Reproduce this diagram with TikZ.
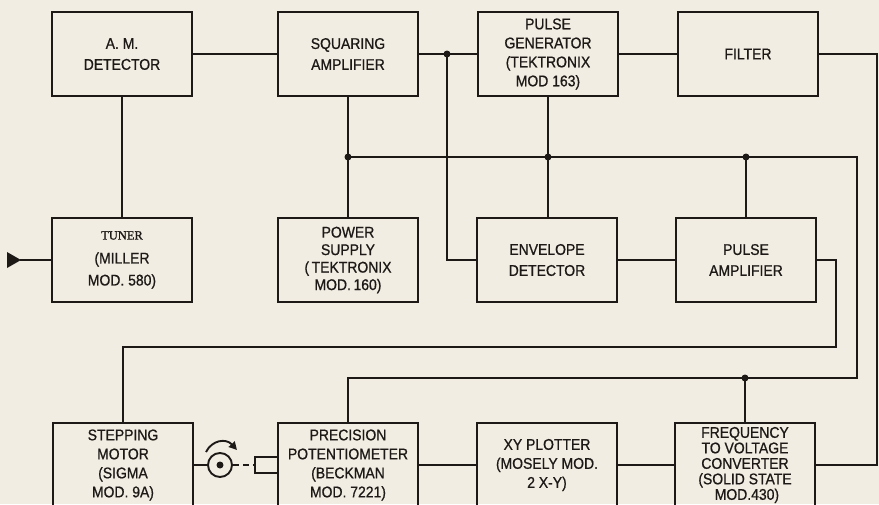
\documentclass[tikz,border=0pt]{standalone}
\usepackage{fontspec}
\setmainfont{Liberation Sans}[FakeStretch=0.9,FakeBold=0.8]
\newfontfamily\tunerfont{Liberation Serif}[FakeBold=1.5]
\usetikzlibrary{arrows.meta}
\definecolor{bg}{RGB}{242,237,227}
\definecolor{ink}{RGB}{28,25,22}
\begin{document}
\begin{tikzpicture}[x=1pt,y=-1pt,
  blk/.style={draw=ink, line width=2.4pt, minimum width=140pt, minimum height=84pt,
    inner sep=0pt, align=center, text=ink, font=\fontsize{15.5}{19}\selectfont},
  two/.style={font=\fontsize{15.5}{21}\selectfont},
  wire/.style={draw=ink, line width=1.9pt},
  jdot/.style={circle, fill=ink, inner sep=0pt, minimum size=7pt}]
\fill[bg] (0,0) rectangle (879,504);
\useasboundingbox (0,0) rectangle (879,504);
\clip (0,0) rectangle (879,504);

% row 1
\node[blk,two] (am) at (122,54) {A. M.\\DETECTOR};
\node[blk,two] (sq) at (348,54) {SQUARING\\AMPLIFIER};
\node[blk] (pg) at (548,54) {PULSE\\GENERATOR\\(TEKTRONIX\\MOD 163)};
\node[blk] (fl) at (748,54) {FILTER};
% row 2
\node[blk] (tu) at (122,260) {{\tunerfont\fontsize{12.5}{12.5}\selectfont TUNER}\\[5pt](MILLER\\[3pt]MOD. 580)};
\node[blk,font=\fontsize{15.5}{17.5}\selectfont] (ps) at (348,260) {POWER\\SUPPLY\\(\,TEKTRONIX\\MOD.\,160)};
\node[blk,two] (ed) at (547,260) {ENVELOPE\\DETECTOR};
\node[blk,two] (pa) at (746,260) {PULSE\\AMPLIFIER};
% row 3
\node[blk] (sm) at (123,465) {STEPPING\\MOTOR\\(SIGMA\\MOD. 9A)};
\node[blk] (pp) at (348,465) {PRECISION\\POTENTIOMETER\\(BECKMAN\\MOD. 7221)};
\node[blk] (xy) at (547,465) {XY PLOTTER\\(MOSELY MOD.\\2 X-Y)};
\node[blk,font=\fontsize{15.5}{15.5}\selectfont] (fv) at (745,465) {FREQUENCY\\TO VOLTAGE\\CONVERTER\\(SOLID STATE\\\ MOD.430)};

% coordinates
\coordinate (j1) at (447,54);
\coordinate (j2) at (348,157);
\coordinate (j3) at (548,157);
\coordinate (j4) at (746,157);
\coordinate (b1) at (857,157);
\coordinate (b2) at (857,378);
\coordinate (j5) at (745,378);
\coordinate (b3) at (348,378);
\coordinate (fr) at (877,54);
\coordinate (fb) at (877,465);
\coordinate (c1) at (836,260);
\coordinate (c2) at (836,347);
\coordinate (c3) at (123,347);
\coordinate (in) at (20,260);

% top row links
\draw[wire] (am) -- (sq);
\draw[wire] (sq) -- (j1) -- (pg);
\draw[wire] (pg) -- (fl);
\draw[wire] (j1) |- (ed.west);
\draw[wire] (fl.east) -- (fr) -- (fb) -- (fv.east);
\draw[wire] (am.south) -- (tu.north);
% power bus
\draw[wire] (sq.south) -- (ps.north);
\draw[wire] (pg.south) -- (pg.south |- ed.north);
\draw[wire] (j2) -- (b1) -- (b2) -- (b3) -- (pp.north);
\draw[wire] (j4) -- (pa.north);
\draw[wire] (j5) -- (fv.north);
% row 2 links
\draw[wire] (ed) -- (pa);
\draw[wire] (pa.east) -- (c1) -- (c2) -- (c3) -- (sm.north);
% row 3 links
\draw[wire] (pp) -- (xy);
\draw[wire] (xy) -- (fv);

% junction dots
\node[jdot] (d1) at (j1) {};
\node[jdot] (d2) at (j2) {};
\node[jdot] (d3) at (j3) {};
\node[jdot] (d4) at (j4) {};
\node[jdot] (d5) at (j5) {};

% input
\draw[wire] (tu.west) -- (in);
\fill[ink] (7,252) -- (7,268) -- (21,260) -- cycle;

% motor shaft
\node[circle, draw=ink, line width=1.9pt, minimum size=24pt, inner sep=0pt] (sh) at (220,465) {};
\node[jdot] (sc) at (sh.center) {};
\draw[wire] (sm.east) -- (sh.west);
\coordinate (k1) at (255,465);
\draw[wire, dash pattern=on 6pt off 4pt] (sh.east) -- (k1);
\draw[wire] (pp.west |- 0,457) -- (255,457) -- (255,473) -- (pp.west |- 0,473);
\draw[wire, -{Triangle[length=8pt,width=8pt]}] (206,452) .. controls (212,440) and (226,438) .. (237,450);
\end{tikzpicture}
\end{document}
